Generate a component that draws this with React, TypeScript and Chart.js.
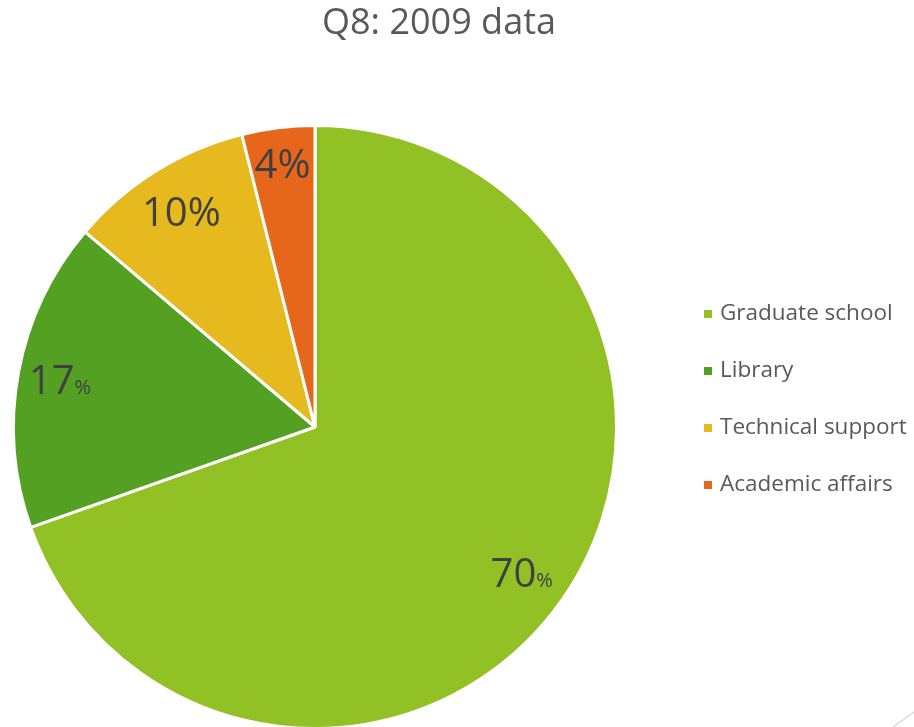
import React, { useEffect, useRef } from "react";
import { Chart, registerables } from "chart.js";

Chart.register(...registerables);

const title = "Q8: 2009 data";
const categories = ["Graduate school", "Library", "Technical support", "Academic affairs"];
const values = [69.6, 16.6, 9.9, 3.9];
const colors = ["#92C125", "#54A022", "#E6B91F", "#E6661B"];
const smallPercent = [true, true, false, false];
const labelRadius = [0.84, 0.86, 0.84, 0.88];

const FONT = "'Open Sans', 'DejaVu Sans', sans-serif";

const overlay = {
  id: "overlay",
  afterDraw(chart: any) {
    const ctx = chart.ctx;
    ctx.save();
    // title
    ctx.fillStyle = "#595959";
    ctx.font = `36px ${FONT}`;
    ctx.textAlign = "center";
    ctx.textBaseline = "middle";
    ctx.fillText(title, 439, 24);

    // slice labels
    const meta = chart.getDatasetMeta(0);
    const ds = chart.data.datasets[0].data as number[];
    const total = ds.reduce((a, b) => a + b, 0);
    meta.data.forEach((arc: any, i: number) => {
      const p = arc.getProps(["x", "y", "startAngle", "endAngle", "outerRadius"], true);
      const mid = (p.startAngle + p.endAngle) / 2;
      const r = p.outerRadius * labelRadius[i];
      const cx = p.x + Math.cos(mid) * r;
      const cy = p.y + Math.sin(mid) * r;
      const num = String(Math.round((ds[i] / total) * 100));
      ctx.fillStyle = "#404040";
      ctx.textBaseline = "alphabetic";
      ctx.textAlign = "left";
      const bigFont = `40px ${FONT}`;
      const pctFont = smallPercent[i] ? `20px ${FONT}` : bigFont;
      ctx.font = bigFont;
      const wNum = ctx.measureText(num).width;
      ctx.font = pctFont;
      const wPct = ctx.measureText("%").width;
      const startX = cx - (wNum + wPct) / 2;
      const baseY = cy + 14;
      ctx.font = bigFont;
      ctx.fillText(num, startX, baseY);
      ctx.font = pctFont;
      ctx.fillText("%", startX + wNum, baseY);
    });

    // legend
    const labels = chart.data.labels as string[];
    const bg = chart.data.datasets[0].backgroundColor as string[];
    labels.forEach((lab, i) => {
      const y = 314 + i * 57;
      ctx.fillStyle = bg[i];
      ctx.fillRect(704, y - 4, 8, 8);
      ctx.fillStyle = "#595959";
      ctx.font = `22.5px ${FONT}`;
      ctx.textAlign = "left";
      ctx.textBaseline = "middle";
      ctx.fillText(lab, 720, y);
    });

    // corner decoration
    ctx.strokeStyle = "#D9D9D9";
    ctx.lineWidth = 1.5;
    ctx.beginPath();
    ctx.moveTo(893, 727);
    ctx.lineTo(914, 712);
    ctx.stroke();
    ctx.restore();
  },
};

export default function App() {
  const ref = useRef<HTMLCanvasElement>(null);
  useEffect(() => {
    document.body.style.margin = "0";
    const chart = new Chart(ref.current!, {
      type: "pie",
      data: {
        labels: categories,
        datasets: [
          {
            data: values,
            backgroundColor: colors,
            borderColor: "#FFFFFF",
            borderWidth: 3,
          },
        ],
      },
      options: {
        animation: false,
        responsive: false,
        layout: { padding: { left: 12, right: 296, top: 124, bottom: 0 } },
        plugins: {
          legend: { display: false },
          title: { display: false },
          tooltip: { enabled: false },
        },
      },
      plugins: [overlay],
    });
    return () => chart.destroy();
  }, []);
  return (
    <div style={{ position: "fixed", left: 0, top: 0, width: 914, height: 727, overflow: "hidden", background: "#fff" }}>
      <canvas ref={ref} width={914} height={730} />
    </div>
  );
}
